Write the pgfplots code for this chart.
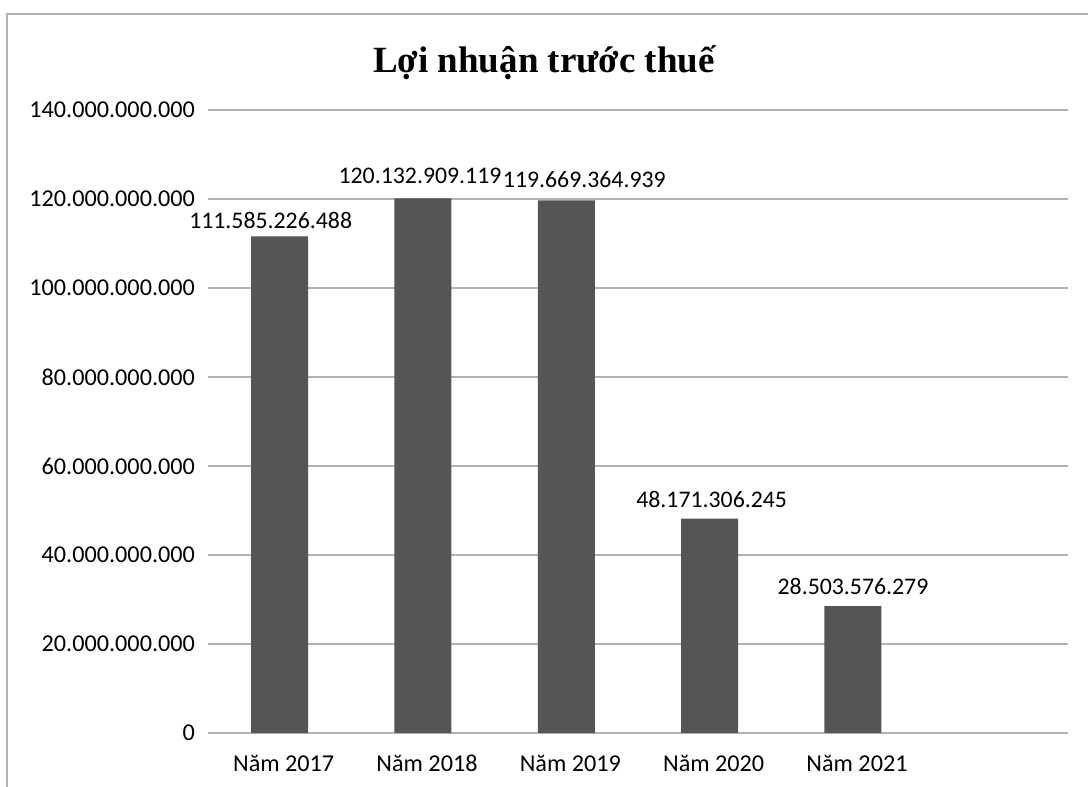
\documentclass[border=0pt]{standalone}
\usepackage{pgfplots}
\pgfplotsset{compat=1.18}
\usepackage{fontspec}
\setmainfont{Carlito}
\newfontfamily\titlefont{Liberation Serif}
\definecolor{barc}{RGB}{85,85,85}
\definecolor{gridc}{RGB}{178,178,178}
\pgfplotstableread{
x y label dx dy
0 111585226488 111.585.226.488 -4.5 4
1 120132909119 120.132.909.119 -1.5 7.5
2 119669364939 119.669.364.939 9 6.5
3 48171306245 48.171.306.245 1 5.5
4 28503576279 28.503.576.279 0 6
}\datatable
\begin{document}
\begin{tikzpicture}
\useasboundingbox (0,0) rectangle (544pt,393.5pt);
\fill[white] (0,0) rectangle (544pt,393.5pt);
\draw[gridc, line width=0.6pt] (3.5pt,-2pt) -- (3.5pt,386.5pt) -- (546pt,386.5pt);
\node[font=\titlefont\bfseries\fontsize{18.5}{22}\selectfont] at (272pt,362pt) {Lợi nhuận trước thuế};
\begin{axis}[
  at={(104pt,27pt)}, anchor=south west,
  scale only axis, width=430pt, height=311.5pt,
  xmin=-0.5, xmax=5.5, ymin=0, ymax=140000000000,
  enlargelimits=false, clip=false,
  axis line style={draw=none},
  major tick style={draw=none},
  ymajorgrids, grid style={gridc, line width=0.6pt},
  xtick={0,1,2,3,4},
  xticklabels={Năm 2017,Năm 2018,Năm 2019,Năm 2020,Năm 2021},
  ytick={0,20000000000,40000000000,60000000000,80000000000,100000000000,120000000000,140000000000},
  yticklabels={0,20.000.000.000,40.000.000.000,60.000.000.000,80.000.000.000,100.000.000.000,120.000.000.000,140.000.000.000},
  scaled y ticks=false,
  ticklabel style={font=\fontsize{12.1}{14}\selectfont, text=black},
  yticklabel style={xshift=-3pt},
  xticklabel style={anchor=base, text height=9pt, text depth=2pt, yshift=-15pt, xshift=2pt},
  ybar, bar width=28.5pt,
]
\addplot[fill=barc, draw=none] table[x=x, y=y] {\datatable};
\pgfplotsinvokeforeach{0,1,2,3,4}{
  \pgfplotstablegetelem{#1}{y}\of\datatable \edef\yv{\pgfplotsretval}
  \pgfplotstablegetelem{#1}{label}\of\datatable \edef\lv{\pgfplotsretval}
  \pgfplotstablegetelem{#1}{dx}\of\datatable \edef\dxv{\pgfplotsretval}
  \pgfplotstablegetelem{#1}{dy}\of\datatable \edef\dyv{\pgfplotsretval}
  \edef\temp{\noexpand\node[anchor=base, inner sep=0pt, font=\noexpand\fontsize{11.9}{14}\noexpand\selectfont, xshift=\dxv pt, yshift=\dyv pt] at (axis cs:#1,\yv) {\lv};}
  \temp
}
\end{axis}
\end{tikzpicture}
\end{document}
